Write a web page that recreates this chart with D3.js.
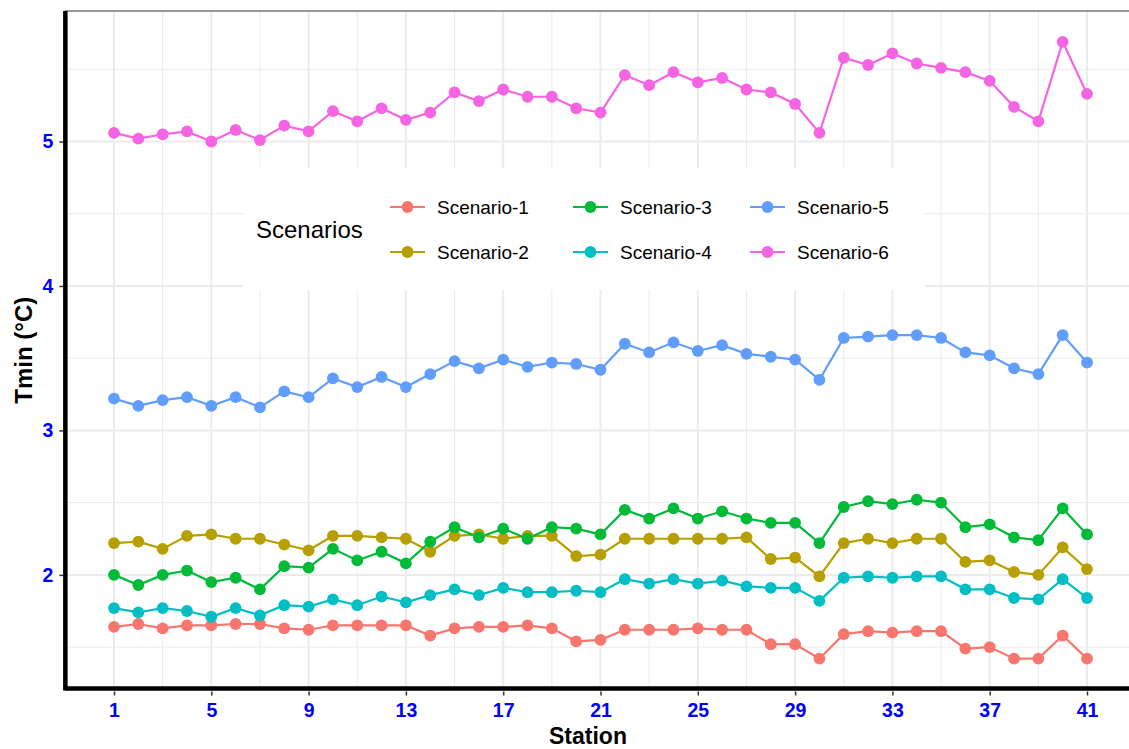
<!DOCTYPE html>
<html>
<head>
<meta charset="utf-8">
<script src="https://cdn.jsdelivr.net/npm/d3@7"></script>
<style>
  html, body { margin: 0; padding: 0; background: #fff; }
  svg { display: block; }
  text { font-family: Arial, "Liberation Sans", sans-serif; }
</style>
</head>
<body>
<svg id="chart" width="1129" height="749"></svg>
<script>
// Minimum temperature per station under six scenarios
const stations = d3.range(1, 42);
const xTickLabels = [1, 5, 9, 13, 17, 21, 25, 29, 33, 37, 41];
const yTickLabels = [2, 3, 4, 5];
const scenarioNames = ["Scenario-1", "Scenario-2", "Scenario-3", "Scenario-4", "Scenario-5", "Scenario-6"];
const scenarioColors = ["#F8766D", "#B79F00", "#00BA38", "#00BFC4", "#619CFF", "#F564E3"];

const scenario1 = [1.64, 1.66, 1.63, 1.65, 1.65, 1.66, 1.66, 1.63, 1.62, 1.65, 1.65, 1.65, 1.65,
  1.58, 1.63, 1.64, 1.64, 1.65, 1.63, 1.54, 1.55, 1.62, 1.62, 1.62, 1.63, 1.62, 1.62,
  1.52, 1.52, 1.42, 1.59, 1.61, 1.60, 1.61, 1.61, 1.49, 1.50, 1.42, 1.42, 1.58, 1.42];
const scenario2 = [2.22, 2.23, 2.18, 2.27, 2.28, 2.25, 2.25, 2.21, 2.17, 2.27, 2.27, 2.26, 2.25,
  2.16, 2.27, 2.28, 2.25, 2.27, 2.27, 2.13, 2.14, 2.25, 2.25, 2.25, 2.25, 2.25, 2.26,
  2.11, 2.12, 1.99, 2.22, 2.25, 2.22, 2.25, 2.25, 2.09, 2.10, 2.02, 2.00, 2.19, 2.04];
const scenario3 = [2.00, 1.93, 2.00, 2.03, 1.95, 1.98, 1.90, 2.06, 2.05, 2.18, 2.10, 2.16, 2.08,
  2.23, 2.33, 2.26, 2.32, 2.25, 2.33, 2.32, 2.28, 2.45, 2.39, 2.46, 2.39, 2.44, 2.39,
  2.36, 2.36, 2.22, 2.47, 2.51, 2.49, 2.52, 2.50, 2.33, 2.35, 2.26, 2.24, 2.46, 2.28];
const scenario4 = [1.77, 1.74, 1.77, 1.75, 1.71, 1.77, 1.72, 1.79, 1.78, 1.83, 1.79, 1.85, 1.81,
  1.86, 1.90, 1.86, 1.91, 1.88, 1.88, 1.89, 1.88, 1.97, 1.94, 1.97, 1.94, 1.96, 1.92,
  1.91, 1.91, 1.82, 1.98, 1.99, 1.98, 1.99, 1.99, 1.90, 1.90, 1.84, 1.83, 1.97, 1.84];
const scenario5 = [3.22, 3.17, 3.21, 3.23, 3.17, 3.23, 3.16, 3.27, 3.23, 3.36, 3.30, 3.37, 3.30,
  3.39, 3.48, 3.43, 3.49, 3.44, 3.47, 3.46, 3.42, 3.60, 3.54, 3.61, 3.55, 3.59, 3.53,
  3.51, 3.49, 3.35, 3.64, 3.65, 3.66, 3.66, 3.64, 3.54, 3.52, 3.43, 3.39, 3.66, 3.47];
const scenario6 = [5.06, 5.02, 5.05, 5.07, 5.00, 5.08, 5.01, 5.11, 5.07, 5.21, 5.14, 5.23, 5.15,
  5.20, 5.34, 5.28, 5.36, 5.31, 5.31, 5.23, 5.20, 5.46, 5.39, 5.48, 5.41, 5.44, 5.36,
  5.34, 5.26, 5.06, 5.58, 5.53, 5.61, 5.54, 5.51, 5.48, 5.42, 5.24, 5.14, 5.69, 5.33];

const seriesValues = [scenario1, scenario2, scenario3, scenario4, scenario5, scenario6];
const series = scenarioNames.map((name, i) => ({
  name, color: scenarioColors[i],
  points: stations.map((s, j) => ({ station: s, value: seriesValues[i][j] }))
}));

const svg = d3.select("#chart");

// Scales: data range padded by 5% on both axes
const x = d3.scaleLinear().domain([1, 41]).range([114, 1087]);
const xPad = (x(41) - x(1)) * 0.05;
const allVals = seriesValues.flat();
const [vmin, vmax] = d3.extent(allVals);
const pad = (vmax - vmin) * 0.05;
const y = d3.scaleLinear().domain([vmin - pad, vmax + pad]).range([689.5, 11]);

const pLeft = x(1) - xPad, pRight = x(41) + xPad, pTop = y.range()[1], pBottom = y.range()[0];

// Panel grid
const grid = svg.append("g");
const yMinor = d3.range(1.5, 6, 1).filter(v => y(v) < pBottom && y(v) > pTop);
const xMinor = d3.range(3, 42, 4);
grid.selectAll(".ymin").data(yMinor).join("line")
  .attr("x1", pLeft).attr("x2", pRight).attr("y1", d => y(d)).attr("y2", d => y(d))
  .attr("stroke", "#ebebeb").attr("stroke-width", 1);
grid.selectAll(".xmin").data(xMinor).join("line")
  .attr("x1", d => x(d)).attr("x2", d => x(d)).attr("y1", pTop).attr("y2", pBottom)
  .attr("stroke", "#ebebeb").attr("stroke-width", 1);
grid.selectAll(".ymaj").data(yTickLabels).join("line")
  .attr("x1", pLeft).attr("x2", pRight).attr("y1", d => y(d)).attr("y2", d => y(d))
  .attr("stroke", "#ebebeb").attr("stroke-width", 2);
grid.selectAll(".xmaj").data(xTickLabels).join("line")
  .attr("x1", d => x(d)).attr("x2", d => x(d)).attr("y1", pTop).attr("y2", pBottom)
  .attr("stroke", "#ebebeb").attr("stroke-width", 2);

// Panel border
svg.append("rect").attr("x", pLeft).attr("y", pTop)
  .attr("width", pRight - pLeft).attr("height", pBottom - pTop)
  .attr("fill", "none").attr("stroke", "#333").attr("stroke-width", 1);

// Lines, then points
const line = d3.line().x(d => x(d.station)).y(d => y(d.value));
svg.append("g").selectAll("path").data(series).join("path")
  .attr("d", d => line(d.points))
  .attr("fill", "none").attr("stroke", d => d.color).attr("stroke-width", 2.2);
svg.append("g").selectAll("g").data(series).join("g")
  .attr("fill", d => d.color)
  .selectAll("circle").data(d => d.points).join("circle")
  .attr("cx", d => x(d.station)).attr("cy", d => y(d.value)).attr("r", 5.9);

// Axes
const xAxis = svg.append("g").attr("transform", `translate(0,${pBottom})`)
  .call(d3.axisBottom(x).tickValues(xTickLabels).tickSize(6).tickPadding(8).tickFormat(d3.format("d")));
const yAxis = svg.append("g").attr("transform", `translate(${pLeft},0)`)
  .call(d3.axisLeft(y).tickValues(yTickLabels).tickSize(6).tickPadding(6).tickFormat(d3.format("d")));
[xAxis, yAxis].forEach(a => {
  a.select(".domain").remove();
  a.selectAll(".tick line").attr("stroke", "#333").attr("stroke-width", 1.5);
  a.selectAll(".tick text").attr("fill", "#0000FF").attr("font-weight", "bold")
    .attr("font-size", 19.5).attr("font-family", 'Arial, "Liberation Sans", sans-serif');
});
xAxis.selectAll(".tick line").attr("y1", 2);
yAxis.selectAll(".tick line").attr("x1", -2);

// Thick axis lines
svg.append("line").attr("x1", pLeft).attr("x2", pRight).attr("y1", pBottom - 1).attr("y2", pBottom - 1)
  .attr("stroke", "#000").attr("stroke-width", 4.5);
svg.append("line").attr("x1", pLeft).attr("x2", pLeft).attr("y1", pTop).attr("y2", pBottom + 1)
  .attr("stroke", "#000").attr("stroke-width", 4.5);

// Axis titles
svg.append("text").attr("x", 588).attr("y", 744).attr("text-anchor", "middle")
  .attr("font-weight", "bold").attr("font-size", 23).text("Station");
svg.append("text").attr("transform", `translate(32,${(pTop + pBottom) / 2}) rotate(-90)`)
  .attr("text-anchor", "middle").attr("font-weight", "bold").attr("font-size", 24).text("Tmin (°C)");

// Legend
const legend = svg.append("g");
legend.append("rect").attr("x", 243).attr("y", 168).attr("width", 682).attr("height", 122).attr("fill", "#fff");
legend.append("text").attr("x", 256).attr("y", 238).attr("font-size", 24).text("Scenarios");
const colX = [390, 573, 750], rowY = [207, 252];
const items = legend.selectAll(".item").data(series).join("g")
  .attr("transform", (d, i) => `translate(${colX[Math.floor(i / 2)]},${rowY[i % 2]})`);
items.append("line").attr("x1", 0).attr("x2", 35).attr("stroke", d => d.color).attr("stroke-width", 2.2);
items.append("circle").attr("cx", 17.5).attr("r", 5.9).attr("fill", d => d.color);
items.append("text").attr("x", 47).attr("y", 7).attr("font-size", 19).text(d => d.name);
</script>
</body>
</html>
